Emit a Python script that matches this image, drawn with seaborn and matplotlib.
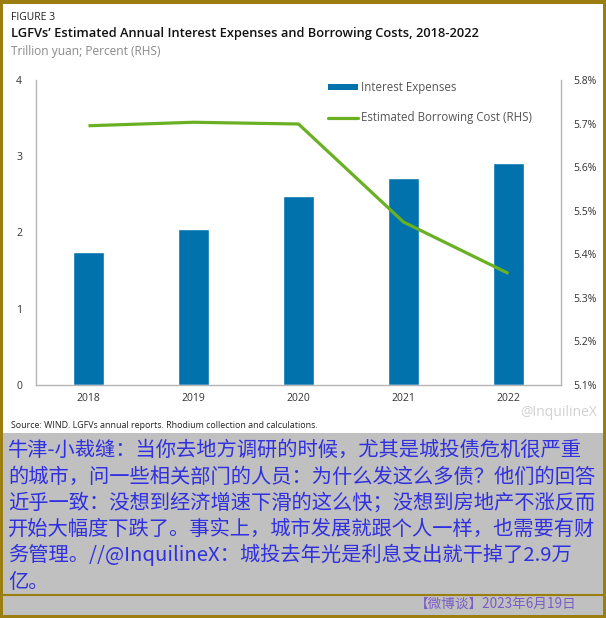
import matplotlib
matplotlib.use("Agg")
import matplotlib.pyplot as plt
import seaborn as sns
import pandas as pd
import numpy as np
from matplotlib.patches import Rectangle
from matplotlib.lines import Line2D

years = ["2018", "2019", "2020", "2021", "2022"]
interest_expenses = [1.74, 2.05, 2.48, 2.72, 2.91]
borrowing_cost = [5.695, 5.703, 5.699, 5.474, 5.356]
left_ticks = [0, 1, 2, 3, 4]
right_ticks = [5.1, 5.2, 5.3, 5.4, 5.5, 5.6, 5.7, 5.8]

fig_title = "LGFVs\u2019 Estimated Annual Interest Expenses and Borrowing Costs, 2018-2022"
fig_label = "FIGURE 3"
fig_sub = "Trillion yuan; Percent (RHS)"
source = "Source: WIND. LGFVs annual reports. Rhodium collection and calculations."
bar_label = "Interest Expenses"
line_label = "Estimated Borrowing Cost (RHS)"
cn_lines = [
    "牛津-小裁缝：当你去地方调研的时候，尤其是城投债危机很严重",
    "的城市，问一些相关部门的人员：为什么发这么多债？他们的回答",
    "近乎一致：没想到经济增速下滑的这么快；没想到房地产不涨反而",
    "开始大幅度下跌了。事实上，城市发展就跟个人一样，也需要有财",
    "务管理。//@InquilineX：城投去年光是利息支出就干掉了2.9万",
    "亿。",
]
footer = "【微博谈】2023年6月19日"
watermark = "@InquilineX"

W, H = 606, 618
sns.set_theme(style="white")
plt.rcParams["font.family"] = ["Open Sans", "DejaVu Sans"]

BAR_C = "#0272ad"
LINE_C = "#6ab023"
GOLD = "#9b7d10"
GRAY_BG = "#c0c0c0"

fig = plt.figure(figsize=(W / 100, H / 100), dpi=100)
fig.patch.set_facecolor(GOLD)

def fx(px):
    return px / W

def fy(py):
    return 1 - py / H

# white chart panel
fig.add_artist(Rectangle((fx(3), fy(433)), fx(603) - fx(3), fy(4) - fy(433),
                         transform=fig.transFigure, facecolor="white", edgecolor="none", zorder=-10))
# gray text panel
fig.add_artist(Rectangle((fx(3), fy(615)), fx(603) - fx(3), fy(433) - fy(615),
                         transform=fig.transFigure, facecolor=GRAY_BG, edgecolor="none", zorder=-10))
# gold separator
fig.add_artist(Line2D([fx(3), fx(603)], [fy(595), fy(595)], transform=fig.transFigure,
                      color=GOLD, lw=1.5, zorder=-5))

ax = fig.add_axes([fx(36), fy(385), fx(561) - fx(36), fy(80) - fy(385)])
ax.set_facecolor("none")

df = pd.DataFrame({"year": years, "interest": interest_expenses, "cost": borrowing_cost})
sns.barplot(data=df, x="year", y="interest", color=BAR_C, width=0.3, saturation=1,
            ax=ax, zorder=2)
ax.set_xlim(-0.5, 4.5)
ax.set_ylim(0, 4)
ax.set_yticks(left_ticks)
ax.set_yticklabels([str(t) for t in left_ticks])
ax.set_xlabel("")
ax.set_ylabel("")

ax2 = ax.twinx()
sns.pointplot(data=df, x="year", y="cost", color=LINE_C, markers="", linestyles="-",
              errorbar=None, ax=ax2, zorder=3)
for l in ax2.lines:
    l.set_linewidth(2.3)
    l.set_solid_capstyle("butt")
ax2.set_xlim(-0.5, 4.5)
ax2.set_ylim(5.1, 5.8)
ax2.set_yticks(right_ticks)
ax2.set_yticklabels([f"{t:.1f}%" for t in right_ticks])
ax2.set_ylabel("")
ax2.set_xlabel("")

spine_c = "#b5b5b5"
for a in (ax, ax2):
    for s in a.spines.values():
        s.set_visible(False)
    a.tick_params(length=0, labelsize=7.5, labelcolor="#333333")
ax.spines["left"].set_visible(True)
ax.spines["bottom"].set_visible(True)
ax2.spines["right"].set_visible(True)
for s in (ax.spines["left"], ax.spines["bottom"], ax2.spines["right"]):
    s.set_color(spine_c)
    s.set_linewidth(1.0)
ax.tick_params(axis="y", pad=10)
ax.tick_params(axis="x", pad=6)
ax2.tick_params(axis="y", pad=9)

# legend
handles = [Rectangle((0, 0), 1, 1, facecolor=BAR_C, edgecolor="none"),
           Line2D([0], [0], color=LINE_C, lw=2.3)]
leg = fig.legend(handles, [bar_label, line_label], loc="upper left",
                 bbox_to_anchor=(fx(328), fy(81)), frameon=False, fontsize=8.3,
                 handlelength=2.6, handleheight=0.45, handletextpad=0.25,
                 labelspacing=1.5, borderaxespad=0, borderpad=0)
for t in leg.get_texts():
    t.set_color("#555555")

# titles
fig.text(fx(11), fy(17), fig_label, fontsize=7.5, color="#222222", va="center", ha="left")
fig.text(fx(11), fy(34), fig_title, fontsize=9.3, color="#111111", va="center", ha="left",
         fontweight="semibold")
fig.text(fx(11), fy(52), fig_sub, fontsize=8.6, color="#8a8a8a", va="center", ha="left")
fig.text(fx(11), fy(425), source, fontsize=6.4, color="#222222", va="center", ha="left")
fig.text(fx(597), fy(413), watermark, fontsize=10, color="#d2d2d2", va="center", ha="right")

# Chinese text
cn_y = [450, 477, 503, 529, 555, 582]
for line, yy in zip(cn_lines, cn_y):
    fig.text(fx(8), fy(yy), line, fontsize=14.6, color="#3030e0", va="center", ha="left",
             family=["Noto Sans CJK SC", "DejaVu Sans"])
fig.text(fx(577), fy(604), footer, fontsize=9.8, color="#7a5cc8", va="center", ha="right",
         family=["Noto Sans CJK SC", "DejaVu Sans"])

fig.savefig("out.png", dpi=100, facecolor=fig.get_facecolor())
